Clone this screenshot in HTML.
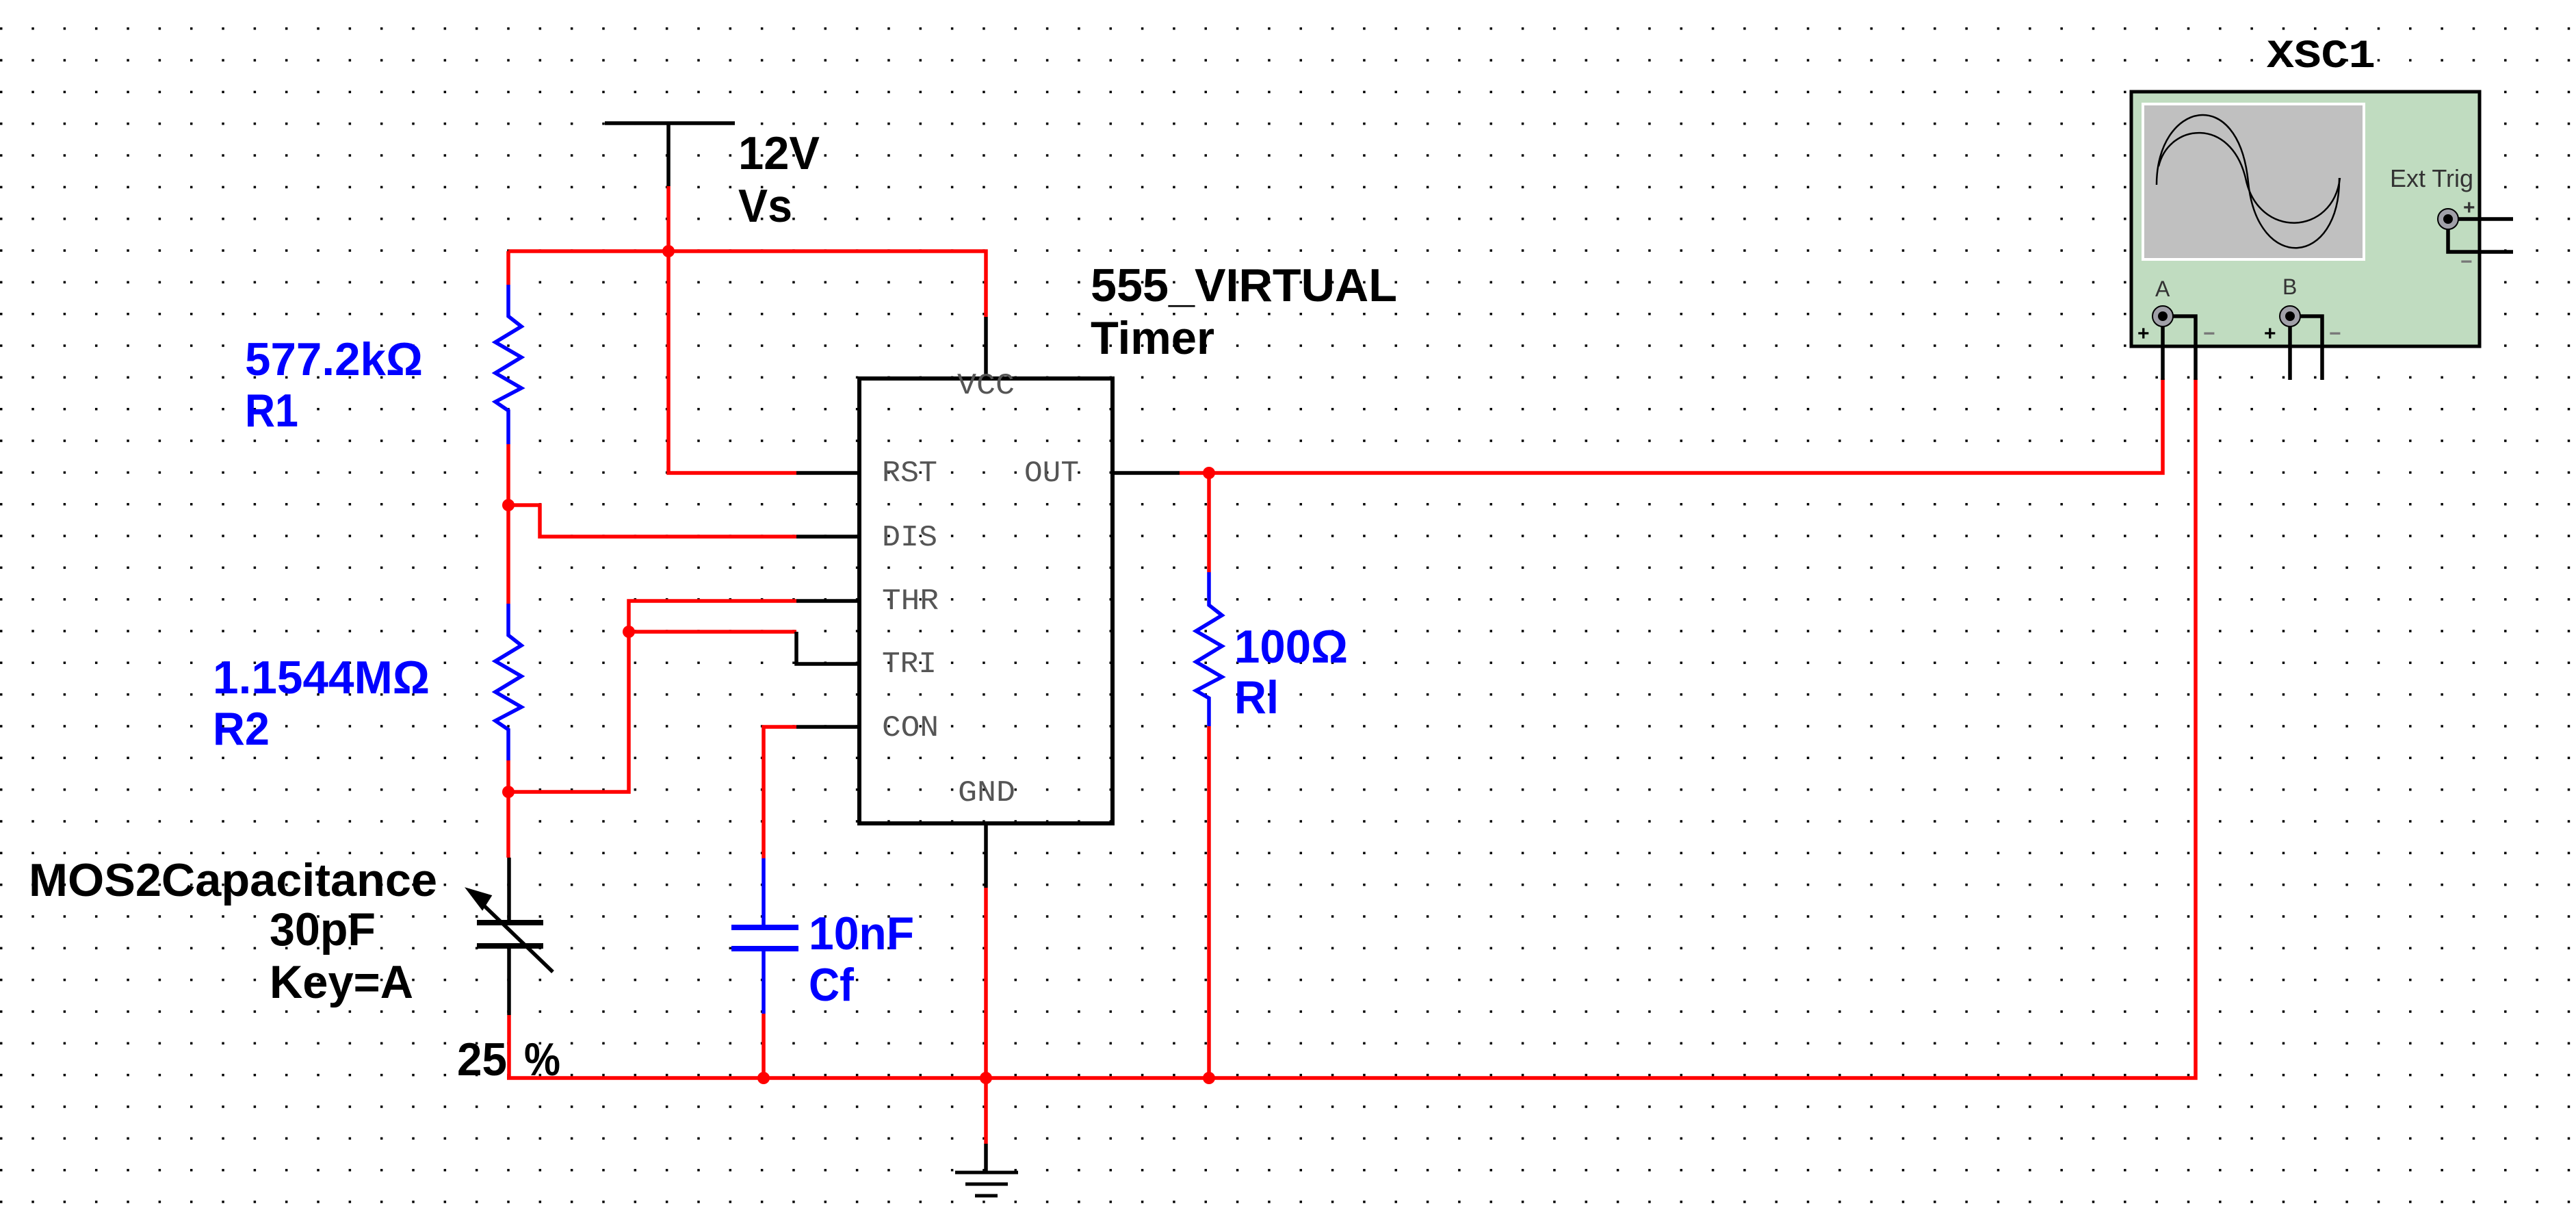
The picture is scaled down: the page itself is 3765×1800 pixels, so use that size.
<!DOCTYPE html>
<html><head><meta charset="utf-8"><style>
html,body{margin:0;padding:0;background:#fff}
svg{display:block}
.l{font-family:"Liberation Sans",Arial,sans-serif;font-weight:bold;font-size:68px}
.b{fill:#0000ff}
.k{fill:#000}
.p{font-family:"Liberation Mono","Courier New",monospace;font-size:44px;fill:#555}
.r{stroke:#ff0000;stroke-width:5.5;fill:none}
.w{stroke:#000;stroke-width:5.5;fill:none}
.u{stroke:#0000ff;stroke-width:5.5;fill:none}
</style></head><body>
<svg width="3765" height="1800" viewBox="0 0 3765 1800" xmlns="http://www.w3.org/2000/svg">
<defs>
<pattern id="g" x="46.3" y="40" width="46.33" height="46.33" patternUnits="userSpaceOnUse">
<rect x="0" y="0" width="3.5" height="3.5" fill="#000"/>
</pattern>
</defs>
<rect width="3765" height="1800" fill="#fff"/>
<rect width="3765" height="1800" fill="url(#g)"/>

<!-- Vs -->
<path class="w" d="M884 180 H1074 M977 180 V272"/>
<path class="r" d="M977 272 V691 H1164"/>
<path class="w" d="M1164 691 H1256"/>
<!-- top rail -->
<path class="r" d="M743 367 H1441 V463"/>
<path class="w" d="M1441 463 V553"/>
<!-- R1 -->
<path class="r" d="M743 367 V416"/>
<path class="u" d="M743 416 V462 L762 477 L724 500 L762 522 L724 545 L762 567 L724 587 L743 600 V649"/>
<path class="r" d="M743 649 V882"/>
<!-- DIS -->
<path class="r" d="M743 738 H789 V784 H1164"/>
<path class="w" d="M1164 784 H1256"/>
<!-- R2 -->
<path class="u" d="M743 882 V928 L762 943 L724 966 L762 988 L724 1011 L762 1033 L724 1053 L743 1066 V1111"/>
<path class="r" d="M743 1111 V1253"/>
<!-- THR / TRI -->
<path class="r" d="M743 1157 H919 V878 H1164"/>
<path class="w" d="M1164 878 H1256"/>
<path class="r" d="M919 923 H1164"/>
<path class="w" d="M1164 923 V970 H1256"/>
<!-- CON -->
<path class="w" d="M1164 1062 H1256"/>
<path class="r" d="M1164 1062 H1116 V1254"/>
<path class="u" d="M1116 1254 V1355 M1116 1386 V1481"/>
<path d="M1069 1355 H1167 M1069 1386 H1167" stroke="#0000ff" stroke-width="8"/>
<path class="r" d="M1116 1481 V1575"/>
<!-- variable cap -->
<path class="w" d="M744 1253 V1348 M744 1382 V1483"/>
<path d="M697 1348 H794 M697 1382 H794" stroke="#000" stroke-width="8"/>
<path d="M700 1316 L808 1420" stroke="#000" stroke-width="5.5"/>
<path d="M683 1299 L717 1309 L705 1328 Z" fill="#000" stroke="#000" stroke-width="3"/>
<path class="r" d="M744 1483 V1575"/>
<!-- bottom rail -->
<path class="r" d="M741 1575 H3209 V553"/>
<!-- GND -->
<path class="w" d="M1441 1203 V1297"/>
<path class="r" d="M1441 1297 V1671"/>
<path class="w" d="M1441 1671 V1713"/>
<path d="M1396 1713 H1488 M1411 1730 H1473 M1425 1747 H1458" stroke="#000" stroke-width="5"/>
<!-- OUT -->
<path class="w" d="M1626 691 H1724"/>
<path class="r" d="M1724 691 H3161 V553"/>
<path class="r" d="M1767 691 V836"/>
<path class="u" d="M1767 836 V884 L1786 899 L1748 922 L1786 944 L1748 967 L1786 989 L1748 1009 L1767 1020 V1061"/>
<path class="r" d="M1767 1061 V1575"/>
<!-- junctions -->
<g fill="#ff0000">
<circle cx="977" cy="367" r="9"/><circle cx="743" cy="738" r="9"/><circle cx="743" cy="1157" r="9"/>
<circle cx="919" cy="923" r="9"/><circle cx="1767" cy="691" r="9"/><circle cx="1116" cy="1575" r="9"/>
<circle cx="1441" cy="1575" r="9"/><circle cx="1767" cy="1575" r="9"/>
</g>
<!-- 555 box -->
<rect x="1256" y="553" width="370" height="650" fill="#fff" fill-opacity="0" stroke="#000" stroke-width="6"/>
<text class="p" x="1400" y="718" textLength="0" style="display:none"> </text>
<text class="p" x="1399" y="575" textLength="84" lengthAdjust="spacingAndGlyphs">VCC</text>
<text class="p" x="1289" y="703" textLength="81" lengthAdjust="spacingAndGlyphs">RST</text>
<text class="p" x="1497" y="703" textLength="80" lengthAdjust="spacingAndGlyphs">OUT</text>
<text class="p" x="1289" y="797" textLength="81" lengthAdjust="spacingAndGlyphs">DIS</text>
<text class="p" x="1289" y="890" textLength="83" lengthAdjust="spacingAndGlyphs">THR</text>
<text class="p" x="1289" y="982" textLength="80" lengthAdjust="spacingAndGlyphs">TRI</text>
<text class="p" x="1289" y="1075" textLength="83" lengthAdjust="spacingAndGlyphs">CON</text>
<text class="p" x="1400" y="1170" textLength="84" lengthAdjust="spacingAndGlyphs">GND</text>

<!-- labels -->
<text class="l k" x="1079" y="247" textLength="119" lengthAdjust="spacingAndGlyphs">12V</text>
<text class="l k" x="1079" y="324" textLength="79" lengthAdjust="spacingAndGlyphs">Vs</text>
<text class="l k" x="1594" y="440" textLength="448" lengthAdjust="spacingAndGlyphs">555_VIRTUAL</text>
<text class="l k" x="1594" y="517" textLength="181" lengthAdjust="spacingAndGlyphs">Timer</text>
<text class="l b" x="358" y="548" textLength="260" lengthAdjust="spacingAndGlyphs">577.2kΩ</text>
<text class="l b" x="358" y="623" textLength="78" lengthAdjust="spacingAndGlyphs">R1</text>
<text class="l b" x="311" y="1013" textLength="317" lengthAdjust="spacingAndGlyphs">1.1544MΩ</text>
<text class="l b" x="311" y="1088" textLength="83" lengthAdjust="spacingAndGlyphs">R2</text>
<text class="l k" x="42" y="1309" textLength="597" lengthAdjust="spacingAndGlyphs">MOS2Capacitance</text>
<text class="l k" x="394" y="1381" textLength="155" lengthAdjust="spacingAndGlyphs">30pF</text>
<text class="l k" x="394" y="1458" textLength="210" lengthAdjust="spacingAndGlyphs">Key=A</text>
<text class="l k" x="668" y="1571" textLength="73" lengthAdjust="spacingAndGlyphs">25</text>
<text class="l k" x="766" y="1571" textLength="53" lengthAdjust="spacingAndGlyphs">%</text>
<text class="l b" x="1182" y="1387" textLength="154" lengthAdjust="spacingAndGlyphs">10nF</text>
<text class="l b" x="1182" y="1462" textLength="66" lengthAdjust="spacingAndGlyphs">Cf</text>
<text class="l b" x="1804" y="968" textLength="166" lengthAdjust="spacingAndGlyphs">100Ω</text>
<text class="l b" x="1804" y="1042" textLength="65" lengthAdjust="spacingAndGlyphs">Rl</text>

<!-- scope -->
<text x="3313" y="98" font-family="'Liberation Mono',monospace" font-weight="bold" font-size="58" textLength="159" lengthAdjust="spacingAndGlyphs">XSC1</text>
<rect x="3115" y="134" width="509" height="372" fill="#c0dcc0" stroke="#000" stroke-width="5"/>
<rect x="3132" y="152" width="323" height="227" fill="#c0c0c0" stroke="#fff" stroke-width="4"/>
<path d="M3152 270 C3152 150 3272 120 3286 267 C3300 400 3420 390 3419 260" fill="none" stroke="#000" stroke-width="2.5"/>
<path d="M3155 243 C3170 180 3260 170 3282 260 C3300 350 3410 345 3420 260" fill="none" stroke="#000" stroke-width="2.5"/>
<text x="3493" y="273" font-family="'Liberation Sans',Arial,sans-serif" font-size="36" fill="#333" textLength="122" lengthAdjust="spacingAndGlyphs">Ext Trig</text>
<text x="3150" y="433" font-family="'Liberation Sans',Arial,sans-serif" font-size="32" fill="#333">A</text>
<text x="3336" y="430" font-family="'Liberation Sans',Arial,sans-serif" font-size="32" fill="#333">B</text>
<g font-family="'Liberation Sans',Arial,sans-serif" font-size="30" font-weight="bold">
<text x="3124" y="497" fill="#000">+</text><text x="3309" y="497" fill="#000">+</text>
<text x="3220" y="497" fill="#777">−</text><text x="3404" y="497" fill="#777">−</text>
<text x="3600" y="313" fill="#333">+</text><text x="3596" y="392" fill="#777">−</text>
</g>
<path class="w" d="M3161 462 V555 M3161 462 H3209 V555 M3347 462 V555 M3347 462 H3394 V555 M3578 320 H3673 M3578 320 V368 H3673"/>
<g>
<circle cx="3161" cy="462" r="15" fill="#a0a0a8" stroke="#000" stroke-width="2"/><circle cx="3161" cy="462" r="7" fill="#000"/>
<circle cx="3347" cy="462" r="15" fill="#a0a0a8" stroke="#000" stroke-width="2"/><circle cx="3347" cy="462" r="7" fill="#000"/>
<circle cx="3578" cy="320" r="15" fill="#a0a0a8" stroke="#000" stroke-width="2"/><circle cx="3578" cy="320" r="7" fill="#000"/>
</g>
</svg>
</body></html>
